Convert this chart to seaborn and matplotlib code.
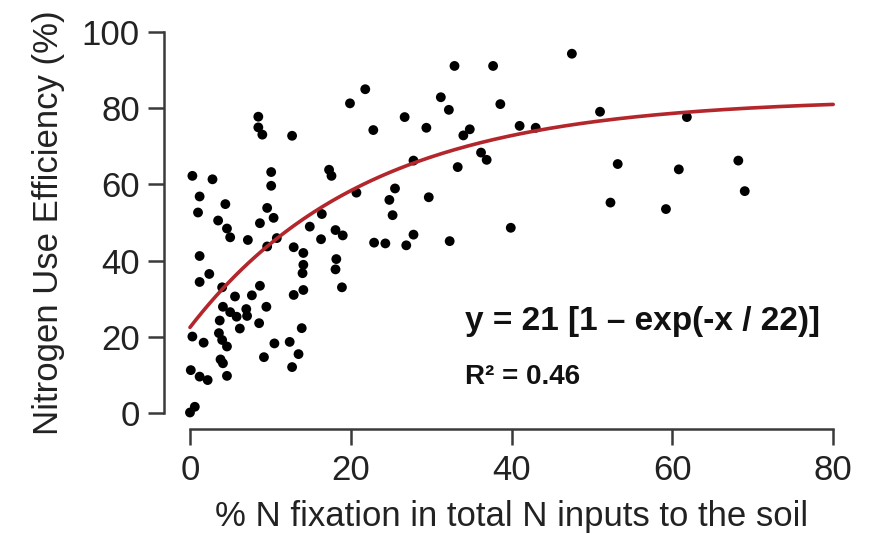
import numpy as np
import pandas as pd
import matplotlib
matplotlib.use("Agg")
import matplotlib.pyplot as plt
import seaborn as sns

# N fixation share (%) and nitrogen use efficiency (%)
n_fixation = [
    0.3, 2.8, 1.2, 1.0, 4.4, 3.5, 4.6, 5.0, 7.2, 10.1,
    10.1, 9.6, 10.4, 8.7, 10.8, 9.6, 1.2, 2.4, 1.2, 4.0,
    5.6, 7.7, 8.7, 9.5, 4.1, 5.0, 5.8, 7.0, 7.1, 3.7,
    6.2, 8.6, 0.3, 1.7, 3.6, 4.0, 4.6, 10.5, 12.4, 13.5,
    9.2, 12.7, 3.8, 4.1, 4.6, 0.1, 1.2, 2.2, 0.6, 0.0,
    12.9, 14.1, 14.1, 14.0, 12.9, 14.1, 13.9, 14.9,
    32.9, 21.8, 19.9, 31.2, 32.2, 26.7, 22.8, 29.4, 34.8, 34.0,
    12.7, 36.2, 36.9, 27.8, 33.3, 17.3, 17.6, 25.5, 24.8, 29.7,
    20.7, 25.2, 16.4, 18.1, 19.0, 16.3, 27.8, 26.9, 22.9, 24.3,
    32.3, 18.2, 18.1, 18.9,
    37.7, 47.5, 38.6, 41.0, 43.0, 51.0, 53.2, 60.8, 52.3, 59.2,
    39.9, 61.8, 68.2, 69.0, 8.5, 8.5, 9.0,
]
nue = [
    62.2, 61.3, 56.8, 52.6, 54.8, 50.5, 48.4, 46.1, 45.4, 63.2,
    59.6, 53.8, 51.2, 49.8, 45.9, 43.7, 41.2, 36.5, 34.4, 33.0,
    30.6, 30.9, 33.4, 27.9, 27.9, 26.5, 25.3, 27.3, 25.5, 24.3,
    22.2, 23.6, 20.1, 18.5, 21.0, 19.2, 17.5, 18.3, 18.7, 15.5,
    14.7, 12.1, 14.1, 13.1, 9.8, 11.3, 9.6, 8.7, 1.7, 0.2,
    43.5, 42.0, 38.9, 36.7, 31.0, 32.3, 22.3, 48.9,
    91.0, 84.9, 81.2, 82.8, 79.5, 77.6, 74.2, 74.8, 74.4, 72.8,
    72.7, 68.3, 66.4, 66.2, 64.5, 63.8, 62.2, 58.9, 55.9, 56.6,
    57.8, 51.9, 52.2, 48.0, 46.6, 45.6, 46.8, 44.0, 44.7, 44.5,
    45.1, 40.4, 37.7, 33.0,
    91.0, 94.2, 81.0, 75.3, 74.8, 79.0, 65.3, 63.9, 55.2, 53.5,
    48.6, 77.6, 66.2, 58.2, 77.7, 74.9, 73.0,
]

# fitted saturating curve as drawn in the figure
FIT_START = 22.5
FIT_GAIN = 60.0
FIT_SCALE = 22.0
equation_text = "y = 21 [1 \u2013 exp(-x / 22)]"
r2_text = "R\u00b2 = 0.46"

x_ticks = [0, 20, 40, 60, 80]
y_ticks = [0, 20, 40, 60, 80, 100]

df = pd.DataFrame({"fix": n_fixation, "nue": nue})
fit_x = np.linspace(0, 80, 200)
fit = pd.DataFrame({"fix": fit_x,
                    "nue": FIT_START + FIT_GAIN * (1 - np.exp(-fit_x / FIT_SCALE))})

sns.set_style("ticks")
plt.rcParams["font.family"] = ["Liberation Sans", "DejaVu Sans"]

fig = plt.figure(figsize=(8.76, 5.35), dpi=100)
ax = fig.add_axes([0.1875, 0.199, 0.793, 0.7705])

sns.scatterplot(data=df, x="fix", y="nue", ax=ax, color="black",
                s=50, edgecolor="none", linewidth=0, zorder=3)
sns.lineplot(data=fit, x="fix", y="nue", ax=ax, color="#b3262b",
             linewidth=2.6, zorder=4)

ax.set_xlim(-3.2, 83.2)
ax.set_ylim(-4, 104)
ax.set_xticks(x_ticks)
ax.set_yticks(y_ticks)

for side in ["top", "right"]:
    ax.spines[side].set_visible(False)
ax.spines["left"].set_bounds(0, 100)
ax.spines["bottom"].set_bounds(0, 80)
for side in ["left", "bottom"]:
    ax.spines[side].set_linewidth(1.8)
    ax.spines[side].set_color("#3a3a3a")

ax.tick_params(axis="both", length=11.5, width=1.8, color="#3a3a3a",
               labelsize=25, labelcolor="#222222")
ax.tick_params(axis="y", pad=6)
ax.tick_params(axis="x", pad=7)

ax.set_xlabel("% N fixation in total N inputs to the soil", fontsize=25,
              color="#222222", labelpad=9)
ax.set_ylabel("Nitrogen Use Efficiency (%)", fontsize=25,
              color="#222222", labelpad=12)

ax.text(34.2, 24.0, equation_text, fontsize=24, fontweight="bold",
        ha="left", va="center", color="#111111")
ax.text(34.2, 9.6, r2_text, fontsize=20, fontweight="bold",
        ha="left", va="center", color="#111111")

fig.savefig("out.png", dpi=100)
